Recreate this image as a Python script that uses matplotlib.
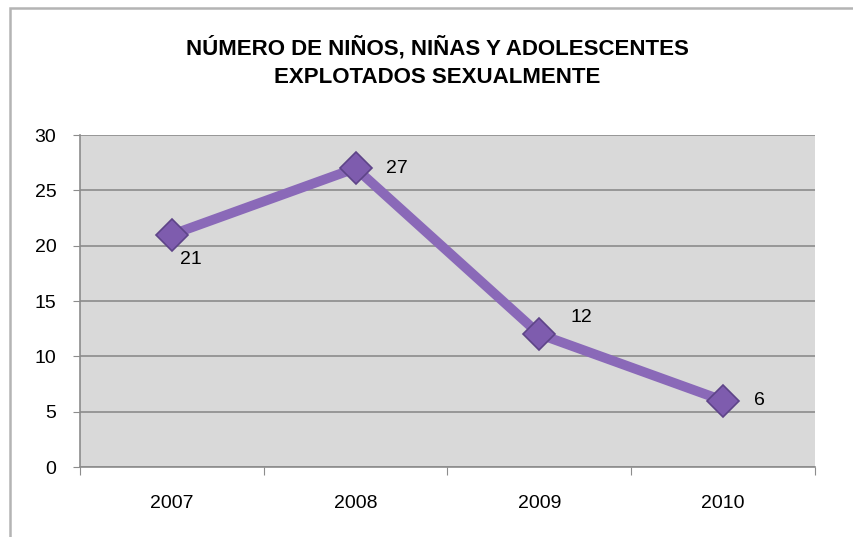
import matplotlib
matplotlib.use('Agg')
import matplotlib.pyplot as plt
from matplotlib.patches import Rectangle
import numpy as np

plt.rcParams['font.family'] = ['Liberation Sans Narrow', 'Liberation Sans', 'DejaVu Sans']

years = ['2007', '2008', '2009', '2010']
values = [21, 27, 12, 6]
label_offsets = [(14, -18), (30, 0), (30, 12), (26, 0)]
title = 'NÚMERO DE NIÑOS, NIÑAS Y ADOLESCENTES\nEXPLOTADOS SEXUALMENTE'

fig = plt.figure(figsize=(8.54, 5.37), dpi=100)
fig.patch.set_facecolor('white')

# chart frame
fig.patches.append(Rectangle((10 / 854, -0.05), 1.0, 1 - 8 / 537 + 0.05,
                             transform=fig.transFigure, fill=False,
                             edgecolor='#b4b4b4', linewidth=1.8))

ax = fig.add_axes([80 / 854, 1 - 467 / 537, 735 / 854, 332 / 537])
ax.set_facecolor('#d9d9d9')

x = np.arange(len(years)) + 0.5
ax.plot(x, values, '-', color='#8a69b8', linewidth=7, solid_capstyle='round', zorder=3)
ax.plot(x, values, 'D', markersize=16, markerfacecolor='#7e5cae',
        markeredgecolor='#5e4488', markeredgewidth=1.2, zorder=4)

for xi, v, off in zip(x, values, label_offsets):
    ax.annotate(str(v), (xi, v), xytext=off, textcoords='offset points',
                ha='center', va='center', fontsize=14, color='black')

ax.set_xlim(0, 4)
ax.set_ylim(0, 30)
ax.set_yticks(range(0, 31, 5))
ax.yaxis.grid(True, color='#8c8c8c', linewidth=1.2)
ax.set_axisbelow(True)

ax.set_xticks(range(0, 5))
ax.set_xticklabels([])
ax.set_xticks(x, minor=True)
ax.set_xticklabels(years, minor=True)
ax.tick_params(axis='x', which='major', length=6, color='#8c8c8c', direction='out')
ax.tick_params(axis='x', which='minor', length=0, pad=20, labelsize=14)
ax.tick_params(axis='y', length=5, color='#8c8c8c', direction='out', labelsize=14, pad=12)

for side in ['top', 'right']:
    ax.spines[side].set_visible(False)
for side in ['left', 'bottom']:
    ax.spines[side].set_color('#8c8c8c')
    ax.spines[side].set_linewidth(1.2)

fig.text(437 / 854, 1 - 62 / 537, title, ha='center', va='center',
         fontsize=16, fontweight='bold', linespacing=1.5)

fig.savefig('out.png', dpi=100)
plt.close()
